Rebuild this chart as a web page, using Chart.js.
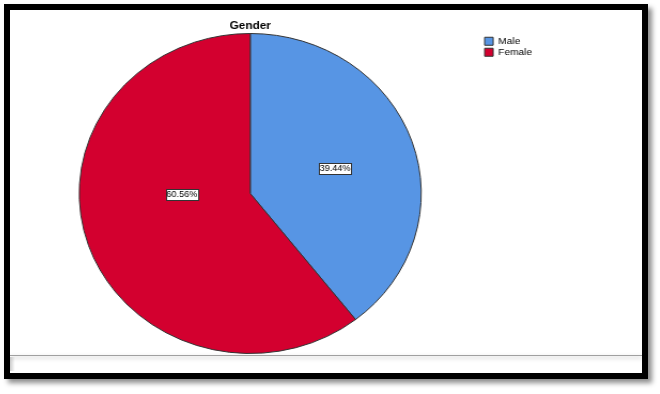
<!DOCTYPE html>
<html>
<head>
<meta charset="utf-8">
<script src="https://cdn.jsdelivr.net/npm/chart.js@4/dist/chart.umd.min.js"></script>
<style>
  html, body { margin: 0; padding: 0; background: #fff; }
  body { width: 660px; height: 394px; position: relative; overflow: hidden; }
  .frame {
    position: absolute; left: 4px; top: 4px;
    width: 632px; height: 363px;
    border: 6px solid #000;
    background: #fff;
    box-shadow: 4px 4px 5px rgba(0,0,0,0.45);
  }
  .chartBox { position: absolute; left: 0; top: 0; width: 585px; height: 346px;
    transform: scaleX(1.06875); transform-origin: 0 0; }
  .sep { position: absolute; left: 0; top: 345px; width: 632px; height: 1px; background: #a0a0a0;
    box-shadow: 0 2px 4px rgba(0,0,0,0.35); }
  .sepSide { position: absolute; left: 0; top: 347px; width: 5px; height: 14px;
    background: linear-gradient(to right, rgba(0,0,0,0.2), rgba(0,0,0,0)); }
</style>
</head>
<body>
<div class="frame">
  <div class="chartBox"><canvas id="chartGender" width="585" height="346"></canvas></div>
  <div class="sep"></div>
  <div class="sepSide"></div>
</div>
<script>
const categorias = ["Male", "Female"];
const percentuais = [39.44, 60.56];
const cores = ["#5795e4", "#d3002f"];

// posicao dos rotulos: deslocamento angular (graus) e fracao do raio
const rotuloAjuste = [
  { ang: 1.5, frac: 0.52 },
  { ang: 18.5, frac: 0.40 }
];

const rotulosPlugin = {
  id: "rotulos",
  afterDatasetsDraw(chart) {
    const ctx = chart.ctx;
    const meta = chart.getDatasetMeta(0);
    ctx.save();
    ctx.font = "8.5px 'Liberation Sans', Arial, sans-serif";
    ctx.textAlign = "center";
    ctx.textBaseline = "middle";
    meta.data.forEach((arc, i) => {
      const p = arc.getProps(["x", "y", "startAngle", "endAngle", "outerRadius"], true);
      const aj = rotuloAjuste[i] || { ang: 0, frac: 0.5 };
      const meio = (p.startAngle + p.endAngle) / 2 + aj.ang * Math.PI / 180;
      const x = p.x + Math.cos(meio) * p.outerRadius * aj.frac;
      const y = p.y + Math.sin(meio) * p.outerRadius * aj.frac;
      const txt = percentuais[i].toFixed(2) + "%";
      const w = Math.round(ctx.measureText(txt).width + 1.5);
      const h = 11;
      const bx = Math.round(x - w / 2) + 0.5;
      const by = Math.round(y - h / 2) + 0.5;
      ctx.fillStyle = "#fff";
      ctx.fillRect(bx, by, w, h);
      ctx.strokeStyle = "#333";
      ctx.lineWidth = 1;
      ctx.strokeRect(bx, by, w, h);
      ctx.fillStyle = "#000";
      ctx.fillText(txt, x, y + 0.5);
    });
    ctx.restore();
  }
};

new Chart(document.getElementById("chartGender"), {
  type: "pie",
  data: {
    labels: categorias,
    datasets: [{
      data: percentuais,
      backgroundColor: cores,
      borderColor: "#333",
      borderWidth: 1
    }]
  },
  options: {
    responsive: false,
    animation: false,
    layout: { padding: { left: 7, right: 86.5, top: 0, bottom: 2 } },
    plugins: {
      title: {
        display: true,
        text: "Gender",
        fullSize: false,
        color: "#000",
        font: { family: "'Liberation Sans Narrow', 'Liberation Sans', Arial, sans-serif", size: 11, weight: "bold" },
        padding: { top: 9, bottom: 0.8 }
      },
      legend: {
        display: true,
        position: "right",
        align: "start",
        fullSize: false,
        title: {
          display: true,
          text: "",
          color: "#000",
          font: { size: 1, lineHeight: 1 },
          padding: { top: 1, bottom: 0 }
        },
        labels: {
          boxWidth: 8,
          boxHeight: 8,
          padding: 1.5,
          color: "#000",
          font: { family: "'Liberation Sans', Arial, sans-serif", size: 9.5 },
          generateLabels(chart) {
            return categorias.map((c, i) => ({
              text: c,
              fillStyle: cores[i],
              strokeStyle: "#333",
              fontColor: "#000",
              lineWidth: 1,
              index: i
            }));
          }
        }
      },
      tooltip: { enabled: false }
    }
  },
  plugins: [rotulosPlugin]
});
</script>
</body>
</html>
